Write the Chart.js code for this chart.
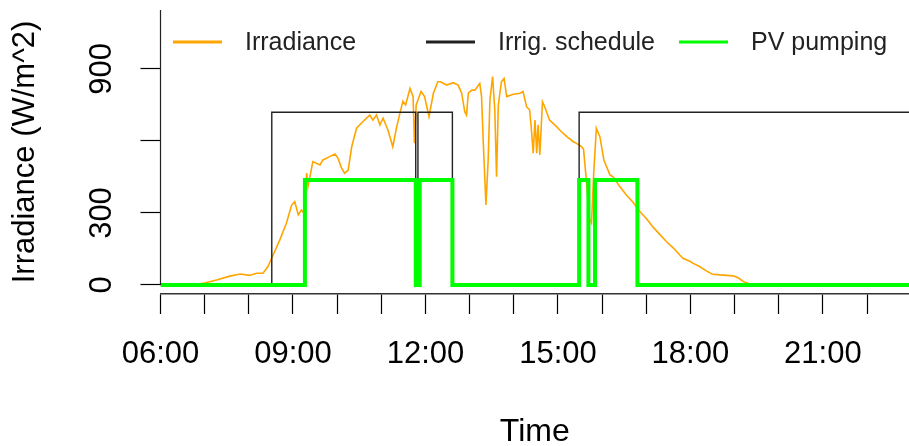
<!DOCTYPE html>
<html><head><meta charset="utf-8">
<script src="https://cdn.jsdelivr.net/npm/chart.js@4/dist/chart.umd.min.js"></script>
<style>html,body{margin:0;padding:0;background:#fff;overflow:hidden}canvas{display:block}</style>
</head><body>
<canvas id="c" width="909" height="446"></canvas>
<script>
// ---- data (hours of day, decimal) ----
const irrTime = [6.00,6.50,6.73,7.00,7.27,7.57,7.80,8.02,8.17,8.32,8.43,8.55,8.70,8.85,8.97,9.04,9.12,9.19,9.25,9.31,9.34,9.45,9.61,9.68,9.83,9.95,10.02,10.10,10.17,10.25,10.33,10.44,10.58,10.74,10.81,10.89,10.97,11.04,11.15,11.26,11.35,11.42,11.49,11.55,11.65,11.72,11.75,11.79,11.83,11.90,11.98,12.08,12.18,12.28,12.34,12.48,12.63,12.74,12.82,12.89,12.93,12.97,13.05,13.12,13.23,13.27,13.31,13.37,13.42,13.46,13.52,13.57,13.61,13.65,13.72,13.78,13.84,13.99,14.14,14.21,14.29,14.36,14.40,14.44,14.48,14.52,14.55,14.59,14.65,14.70,14.81,14.97,15.04,15.20,15.35,15.42,15.54,15.58,15.63,15.68,15.72,15.76,15.81,15.87,15.95,16.04,16.18,16.25,16.40,16.55,16.70,16.86,17.01,17.16,17.31,17.46,17.61,17.76,17.84,18.00,18.06,18.20,18.37,18.50,18.67,18.97,19.10,19.20,19.35,19.60,20.00,22.95];
const irrValue = [0,0,1,8,21,37,46,40,49,49,76,125,187,257,333,347,292,312,300,466,410,514,500,521,535,546,528,487,466,479,576,653,680,708,687,708,667,695,646,576,660,715,765,750,819,785,591,750,771,806,785,701,799,847,847,833,843,833,799,722,708,799,812,812,840,785,590,333,521,771,868,729,451,750,847,861,785,795,799,806,743,729,646,549,687,549,667,542,764,743,687,660,646,618,597,590,576,565,465,354,271,257,465,653,618,521,458,451,410,375,345,305,275,240,210,180,155,125,110,98,90,78,58,45,42,38,28,14,4,1,0,0];
const schedTime  = [6, 8.52, 11.78, 11.83, 12.61, 15.48, 22.95];
const schedValue = [0, 720, 0, 720, 0, 720, 720];
const pumpTime  = [6, 9.27, 11.78, 11.87, 12.61, 15.48, 15.69, 15.84, 16.80, 22.95];
const pumpValue = [0, 437, 0, 437, 0, 437, 0, 437, 0, 0];
const seriesNames = ['Irradiance', 'Irrig. schedule', 'PV pumping'];
const hourTicks  = [6,7,8,9,10,11,12,13,14,15,16,17,18,19,20,21,22];
const hourLabels = ['06:00','','','09:00','','','12:00','','','15:00','','','18:00','','','21:00',''];
const yTicks      = [0, 300, 600, 900];
const yTickLabels = ['0', '300', '', '900'];

const FONT = '"Liberation Sans", Arial, Helvetica, sans-serif';
const pts = (xs, ys) => xs.map((x, i) => ({x, y: ys[i]}));

const rAxisPlugin = {
  id: 'rAxis',
  afterDraw(chart) {
    const {ctx, chartArea} = chart;
    const y = chart.scales.y;
    ctx.save();
    // y axis line
    ctx.strokeStyle = '#222'; ctx.lineWidth = 1.2;
    ctx.beginPath();
    ctx.moveTo(chartArea.left, y.getPixelForValue(0));
    ctx.lineTo(chartArea.left, chartArea.top);
    ctx.stroke();
    // rotated y tick labels
    ctx.fillStyle = '#000';
    ctx.font = '31px ' + FONT;
    ctx.textAlign = 'center'; ctx.textBaseline = 'middle';
    yTicks.forEach((v, i) => {
      if (!yTickLabels[i]) return;
      ctx.save();
      ctx.translate(102.5, y.getPixelForValue(v));
      ctx.rotate(-Math.PI / 2);
      ctx.fillText(yTickLabels[i], 0, 0);
      ctx.restore();
    });
    // legend
    ctx.font = '25px ' + FONT;
    ctx.textAlign = 'left';
    chart.data.datasets.forEach((ds, i) => {
      const x0 = 173 + i * 253;
      ctx.strokeStyle = ds.borderColor; ctx.lineWidth = 3;
      ctx.beginPath(); ctx.moveTo(x0, 42); ctx.lineTo(x0 + 49, 42); ctx.stroke();
      ctx.fillStyle = '#222';
      ctx.fillText(ds.label, x0 + 72, 43);
    });
    ctx.restore();
  }
};

new Chart(document.getElementById('c'), {
  type: 'line',
  data: {
    datasets: [
      {label: seriesNames[0], data: pts(irrTime, irrValue), borderColor: '#FFA500', borderWidth: 1.6, pointRadius: 0, tension: 0, order: 3},
      {label: seriesNames[1], data: pts(schedTime, schedValue), borderColor: '#222222', borderWidth: 1.4, pointRadius: 0, stepped: true, order: 2},
      {label: seriesNames[2], data: pts(pumpTime, pumpValue), borderColor: '#00FF00', borderWidth: 4, pointRadius: 0, stepped: true, order: 1}
    ]
  },
  options: {
    responsive: false, animation: false, devicePixelRatio: 1,
    layout: {padding: {top: 10, right: 0, left: 0, bottom: 0}},
    plugins: {legend: {display: false}, tooltip: {enabled: false}},
    scales: {
      x: {
        type: 'linear', min: 6, max: 22.95,
        afterBuildTicks: s => { s.ticks = hourTicks.map(v => ({value: v})); },
        afterFit: s => { s.height = 446 - 294; },
        ticks: {
          autoSkip: false, maxRotation: 0, minRotation: 0, padding: 22, color: '#000',
          font: {family: FONT, size: 31},
          callback: (v) => hourLabels[hourTicks.indexOf(v)] || ''
        },
        grid: {drawOnChartArea: false, tickLength: 20, tickColor: '#000', tickWidth: 1.2},
        border: {display: true, color: '#333', width: 1.5},
        title: {display: true, text: 'Time', color: '#000', font: {family: FONT, size: 32, lineHeight: 1}, padding: {top: 0, bottom: -2}}
      },
      y: {
        type: 'linear', min: -37.5, max: 1145.8,
        afterBuildTicks: s => { s.ticks = yTicks.map(v => ({value: v})); },
        afterFit: s => { s.width = 160.5; },
        ticks: {display: false},
        grid: {drawOnChartArea: false, tickLength: 20, tickColor: '#000', tickWidth: 1.2},
        border: {display: false},
        title: {display: true, text: 'Irradiance (W/m^2)', color: '#000', font: {family: FONT, size: 31, lineHeight: 1}, padding: {top: 10, bottom: 0}}
      }
    }
  },
  plugins: [rAxisPlugin]
});
</script>
</body></html>
